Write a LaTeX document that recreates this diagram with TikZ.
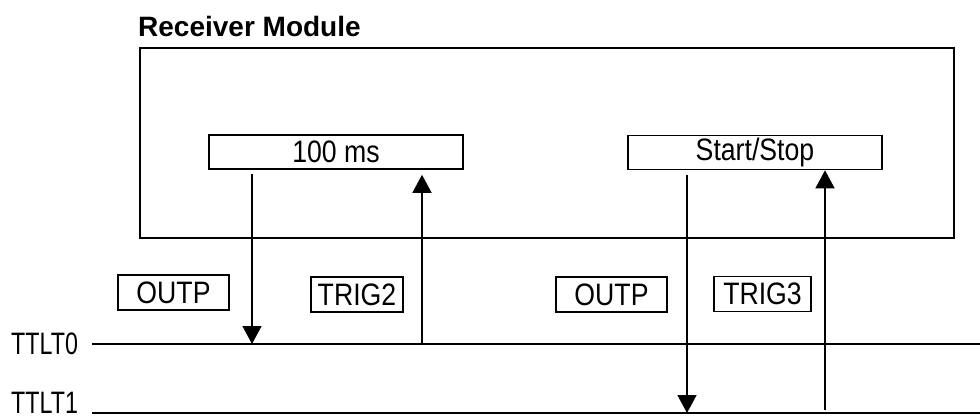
\documentclass[tikz,border=0pt]{standalone}
\usepackage{fontspec}
\setmainfont{Liberation Sans}
\newfontfamily\narrowfont[FakeStretch=0.86]{Liberation Sans}
\newfontfamily\lineletters[FakeStretch=0.75]{Liberation Sans}
\usetikzlibrary{arrows.meta}

\begin{document}
\begin{tikzpicture}[
    x=1pt, y=-1pt, % pixel-like units, y pointing down
    >={Triangle[width=19pt,length=18pt]}, % filled triangle tips
    module/.style={draw, line width=1.6pt, minimum width=814pt, minimum height=190pt}, % Receiver Module frame
    block/.style={draw, line width=1.6pt, minimum width=254pt, minimum height=34pt,
                  font=\narrowfont\fontsize{31}{32}\selectfont, inner sep=0pt}, % function blocks
    tag/.style={draw, line width=1.4pt, minimum height=35pt,
                font=\narrowfont\fontsize{31}{32}\selectfont, inner sep=0pt}, % OUTP / TRIG tags
    linename/.style={font=\lineletters\fontsize{31}{32}\selectfont, anchor=base west, inner sep=0pt}, % TTLT labels
    bus/.style={-, line width=1.6pt}, % TTL trigger lines
    sig/.style={->, line width=1.5pt} % signal arrows
  ]
  \useasboundingbox (0,0) rectangle (980,418);

  % --- Receiver Module ---
  \node[font=\bfseries\fontsize{28}{29}\selectfont, anchor=base west, inner sep=0pt] (title) at (138,36) {Receiver Module};
  \node[module] (rx) at (547,143) {};
  \node[block] (ms) at (336,152) {100 ms};
  \node[block] (ss) at (755,152.5) {Start/Stop};

  % --- Tags ---
  \node[tag, minimum width=111pt] (outpA) at (173.5,292.5) {OUTP};
  \node[tag, minimum width=92pt] (trigB) at (357,294.5) {TRIG2};
  \node[tag, minimum width=111pt] (outpC) at (611.5,294.5) {OUTP};
  \node[tag, minimum width=97pt] (trigD) at (762.5,294) {TRIG3};

  % --- TTL trigger lines ---
  \node[linename] (lblA) at (11,354) {TTLT0};
  \node[linename] (lblB) at (11,413) {TTLT1};
  \coordinate (t0s) at (92,344);
  \coordinate (t0e) at (980,344);
  \coordinate (t1s) at (92,413);
  \coordinate (t1e) at (980,413);
  \draw[bus] (t0s) -- (t0e);
  \draw[bus] (t1s) -- (t1e);

  % --- Signals between blocks and lines ---
  \coordinate (t0a) at (252,344); % OUTP of 100 ms onto TTLT0
  \coordinate (t0b) at (422,344); % TRIG2 from TTLT0
  \coordinate (t1a) at (687,413); % OUTP of Start/Stop onto TTLT1
  \coordinate (t1b) at (825,413); % TRIG3 from TTLT1
  \draw[sig, shorten <=4pt] (ms.south -| t0a) -- (t0a);
  \draw[sig, shorten >=5pt] (t0b) -- (ms.south -| t0b);
  \draw[sig, shorten <=5pt] (ss.south -| t1a) -- (t1a);
  \draw[sig, shorten <=3pt] (t1b) -- (ss.south -| t1b);

\end{tikzpicture}
\end{document}
